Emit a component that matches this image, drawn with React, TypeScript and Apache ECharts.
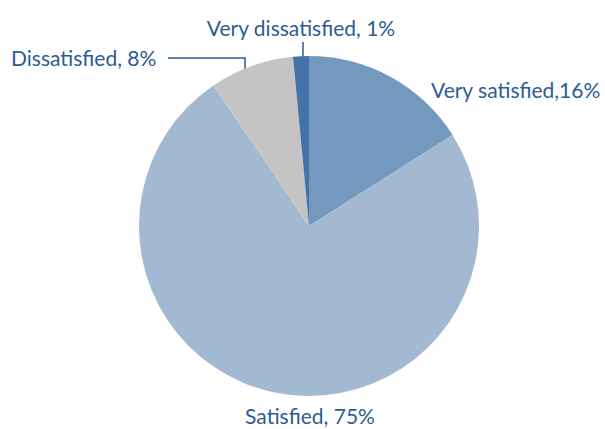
import React, { useEffect, useRef } from "react";
import * as echarts from "echarts";

const categories = ["Very satisfied", "Satisfied", "Dissatisfied", "Very dissatisfied"];
const values = [16, 74.5, 8, 1.5];
const labelTexts = ["Very satisfied,16%", "Satisfied, 75%", "Dissatisfied, 8%", "Very dissatisfied, 1%"];
const colors = ["#7399BE", "#A3B9D1", "#C4C4C4", "#4373A8"];
const textColor = "#2D5B94";

export default function App() {
  const ref = useRef<HTMLDivElement>(null);
  useEffect(() => {
    document.body.style.margin = "0";
    const chart = echarts.init(ref.current!, null, { renderer: "svg" });
    const layouts: any[] = [
      { x: 431, y: 89, align: "left", verticalAlign: "middle" },
      { x: 310, y: 415, align: "center", verticalAlign: "middle" },
      { x: 11, y: 57, align: "left", verticalAlign: "middle", labelLinePoints: [[168, 58], [245, 58], [245, 70]] },
      { x: 301, y: 27, align: "center", verticalAlign: "middle", labelLinePoints: [[303, 42], [303, 58]] },
    ];
    chart.setOption({
      animation: false,
      series: [
        {
          type: "pie",
          center: [309, 226],
          radius: 170,
          startAngle: 90,
          clockwise: true,
          data: categories.map((c, i) => ({
            name: c,
            value: values[i],
            itemStyle: { color: colors[i] },
            labelLine: { show: i >= 2 },
          })),
          label: {
            show: true,
            position: "outside",
            overflow: "none",
            edgeDistance: 0,
            formatter: (p: any) => labelTexts[p.dataIndex],
            color: textColor,
            fontFamily: "Lato",
            fontSize: 21,
          },
          labelLine: {
            lineStyle: { color: textColor, width: 1.5 },
          },
          labelLayout: (p: any) => layouts[p.dataIndex],
        },
      ],
    });
    return () => chart.dispose();
  }, []);
  return <div ref={ref} style={{ width: 605, height: 429 }} />;
}
